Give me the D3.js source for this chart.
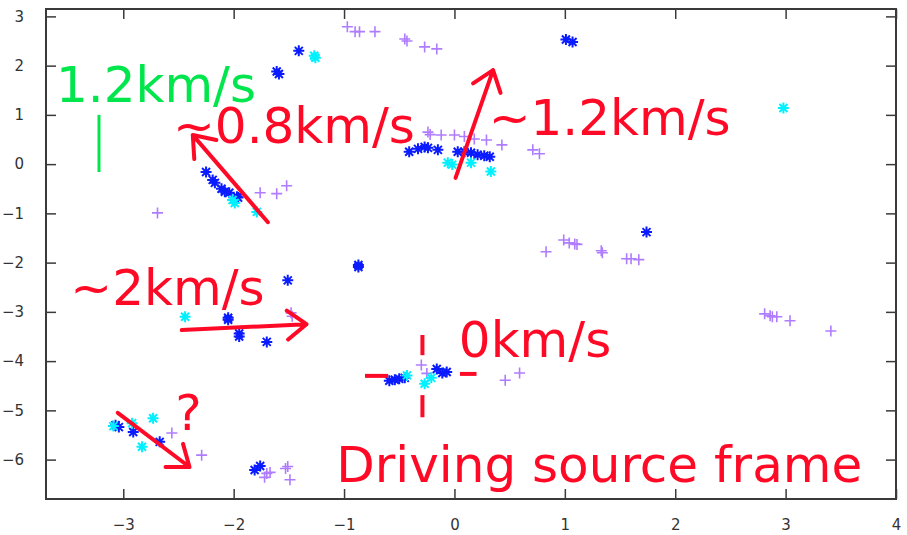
<!DOCTYPE html>
<html>
<head>
<meta charset="utf-8">
<script src="https://cdn.jsdelivr.net/npm/d3@7"></script>
<style>
  body { margin: 0; background: #fff; }
  svg { display: block; font-family: "DejaVu Sans", sans-serif; }
</style>
</head>
<body>
<svg id="chart" width="907" height="535"></svg>
<script>
// tick values
const xTicks = [-3, -2, -1, 0, 1, 2, 3, 4];
const yTicks = [3, 2, 1, 0, -1, -2, -3, -4, -5, -6];

// blue asterisks
const blueStars = [
  [-1.41, 2.30], [-1.61, 1.88], [-1.59, 1.83], [1.01, 2.53], [1.07, 2.48],
  [-0.41, 0.25], [-0.33, 0.31], [-0.27, 0.35], [-0.24, 0.33], [-0.15, 0.29],
  [0.03, 0.25], [0.09, 0.25], [0.15, 0.23], [0.21, 0.19], [0.27, 0.17], [0.32, 0.15],
  [-2.25, -0.16], [-2.19, -0.32], [-2.17, -0.38], [-2.11, -0.50], [-2.08, -0.56],
  [-2.04, -0.58], [-1.97, -0.66], [-1.96, -0.68],
  [-0.87, -2.05], [-0.87, -2.09], [-1.51, -2.36], [1.74, -1.38],
  [-2.05, -3.12], [-2.05, -3.16], [-1.95, -3.44], [-1.95, -3.50], [-1.70, -3.61],
  [-0.59, -4.40], [-0.54, -4.38], [-0.50, -4.36], [-0.45, -4.34],
  [-0.16, -4.16], [-0.11, -4.24], [-0.07, -4.22],
  [-3.07, -5.30], [-3.04, -5.34], [-2.91, -5.44], [-2.67, -5.64],
  [-1.81, -6.21], [-1.76, -6.13]
];

// cyan asterisks
const cyanStars = [
  [-1.26, 2.16], [-1.27, 2.20], [2.98, 1.14],
  [-0.06, 0.03], [-0.02, -0.01], [0.15, 0.03], [0.33, -0.15],
  [-2.01, -0.73], [-1.99, -0.79], [-1.79, -0.97],
  [-2.44, -3.10],
  [-0.43, -4.29], [-0.27, -4.46], [-0.21, -4.34],
  [-3.09, -5.32], [-2.92, -5.26], [-2.73, -5.16], [-2.83, -5.74]
];

// purple crosses
const purplePlus = [
  [-0.97, 2.79], [-0.90, 2.69], [-0.86, 2.69], [-0.72, 2.69], [-0.45, 2.54], [-0.43, 2.50],
  [-0.27, 2.38], [-0.16, 2.34],
  [-0.24, 0.65], [-0.22, 0.60], [-0.12, 0.59], [0.00, 0.59], [0.09, 0.56], [0.18, 0.51],
  [0.29, 0.49], [0.43, 0.39], [0.71, 0.29], [0.77, 0.21],
  [-1.76, -0.58], [-1.61, -0.60], [-1.52, -0.44], [-2.69, -0.99],
  [0.83, -1.78], [0.99, -1.54], [1.04, -1.60], [1.09, -1.62], [1.11, -1.63],
  [1.33, -1.76], [1.34, -1.80], [1.56, -1.92], [1.60, -1.92], [1.67, -1.94],
  [-1.48, -3.02], [-1.47, -3.09],
  [-0.30, -4.08], [-0.25, -4.25], [0.46, -4.39], [0.59, -4.24],
  [-2.56, -5.46], [-2.29, -5.91], [-1.70, -6.28], [-1.72, -6.36], [-1.67, -6.26],
  [-1.53, -6.18], [-1.51, -6.14], [-1.49, -6.41],
  [2.81, -3.04], [2.86, -3.08], [2.88, -3.10], [2.92, -3.10], [3.04, -3.18], [3.41, -3.39]
];

// hand-drawn annotations (data units)
const redLabels = [
  { text: "~0.8km/s", x: -2.55, y: 0.43 },
  { text: "~1.2km/s", x: 0.31, y: 0.59 },
  { text: "~2km/s", x: -3.48, y: -2.86 },
  { text: "0km/s", x: 0.04, y: -3.92 },
  { text: "?", x: -2.53, y: -5.40 },
  { text: "Driving source frame", x: -1.07, y: -6.45 }
];
const greenLabel = { text: "1.2km/s", x: -3.61, y: 1.26 };
const greenBar = { x: -3.22, y1: 1.00, y2: -0.16 };
const redArrows = [
  { x1: -1.69, y1: -1.18, x2: -2.37, y2: 0.59 },
  { x1: 0.01, y1: -0.28, x2: 0.35, y2: 1.91 },
  { x1: -2.47, y1: -3.37, x2: -1.34, y2: -3.25 },
  { x1: -3.05, y1: -5.05, x2: -2.40, y2: -6.15 }
];
const crossDashes = [
  { x1: -0.81, y1: -4.30, x2: -0.60, y2: -4.30 },
  { x1: 0.05, y1: -4.26, x2: 0.20, y2: -4.26 },
  { x1: -0.29, y1: -3.47, x2: -0.29, y2: -3.88 },
  { x1: -0.29, y1: -4.69, x2: -0.29, y2: -5.14 }
];

const svg = d3.select("#chart");
const margin = { top: 9, right: 11, bottom: 36, left: 46 };
const width = +svg.attr("width"), height = +svg.attr("height");
const innerW = width - margin.left - margin.right;
const innerH = height - margin.top - margin.bottom;

const x = d3.scaleLinear().domain([-3.7, 4]).range([0, innerW]);
const y = d3.scaleLinear().domain([-6.8, 3.15]).range([innerH, 0]);

const g = svg.append("g").attr("transform", `translate(${margin.left},${margin.top})`);

// frame with inward ticks on all four sides
const axisColor = "#3a3a3a";
function styleAxis(sel) {
  sel.select(".domain").remove();
  sel.selectAll(".tick line").attr("stroke", axisColor).attr("stroke-width", 1.5);
  sel.selectAll(".tick text").attr("fill", "#333").style("font-size", "15px");
}
g.append("g").attr("transform", `translate(0,${innerH})`)
  .call(d3.axisBottom(x).tickValues(xTicks).tickSize(-10).tickPadding(20).tickFormat(d3.format("d")))
  .call(styleAxis);
g.append("g")
  .call(d3.axisTop(x).tickValues(xTicks).tickSize(-10).tickFormat(""))
  .call(styleAxis);
g.append("g")
  .call(d3.axisLeft(y).tickValues(yTicks).tickSize(-10).tickPadding(22).tickFormat(d3.format("d")))
  .call(styleAxis);
g.append("g").attr("transform", `translate(${innerW},0)`)
  .call(d3.axisRight(y).tickValues(yTicks).tickSize(-10).tickFormat(""))
  .call(styleAxis);
g.selectAll(".tick text").attr("font-family", "DejaVu Sans, sans-serif");

g.append("rect")
  .attr("width", innerW).attr("height", innerH)
  .attr("fill", "none").attr("stroke", axisColor).attr("stroke-width", 2);

// markers
const starPath = "M-5.5,0H5.5M0,-5.5V5.5M-4,-4L4,4M-4,4L4,-4";
const plusPath = "M-5.5,0H5.5M0,-5.5V5.5";

function drawMarks(data, path, color, sw) {
  g.append("g").selectAll("path")
    .data(data)
    .join("path")
    .attr("transform", d => `translate(${x(d[0])},${y(d[1])})`)
    .attr("d", path)
    .attr("fill", "none")
    .attr("stroke", color)
    .attr("stroke-width", sw);
}
drawMarks(purplePlus, plusPath, "#b07cff", 1.6);
drawMarks(blueStars, starPath, "#0a1cff", 2);
drawMarks(cyanStars, starPath, "#00f0ff", 2);

// annotations
const red = "#ff0a26";
const green = "#00e64c";

g.append("line")
  .attr("x1", x(greenBar.x)).attr("x2", x(greenBar.x))
  .attr("y1", y(greenBar.y1)).attr("y2", y(greenBar.y2))
  .attr("stroke", green).attr("stroke-width", 3);

g.append("text")
  .attr("x", x(greenLabel.x)).attr("y", y(greenLabel.y))
  .attr("fill", green).style("font-size", "50px")
  .text(greenLabel.text);

g.selectAll(".dash")
  .data(crossDashes)
  .join("line")
  .attr("class", "dash")
  .attr("x1", d => x(d.x1)).attr("y1", d => y(d.y1))
  .attr("x2", d => x(d.x2)).attr("y2", d => y(d.y2))
  .attr("stroke", red).attr("stroke-width", 4);

redArrows.forEach(a => {
  const x1 = x(a.x1), y1 = y(a.y1), x2 = x(a.x2), y2 = y(a.y2);
  const ang = Math.atan2(y1 - y2, x1 - x2);
  const len = 24, spread = 0.65;
  const p = d3.path();
  p.moveTo(x1, y1); p.lineTo(x2, y2);
  p.moveTo(x2 + len * Math.cos(ang + spread), y2 + len * Math.sin(ang + spread));
  p.lineTo(x2, y2);
  p.lineTo(x2 + len * Math.cos(ang - spread), y2 + len * Math.sin(ang - spread));
  g.append("path")
    .attr("d", p.toString())
    .attr("fill", "none")
    .attr("stroke", red)
    .attr("stroke-width", 4)
    .attr("stroke-linecap", "round")
    .attr("stroke-linejoin", "round");
});

g.selectAll(".lbl")
  .data(redLabels)
  .join("text")
  .attr("class", "lbl")
  .attr("x", d => x(d.x)).attr("y", d => y(d.y))
  .attr("fill", red).style("font-size", "50px")
  .text(d => d.text);
</script>
</body>
</html>
